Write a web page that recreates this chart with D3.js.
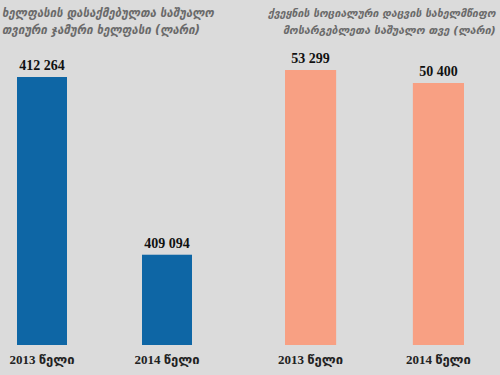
<!DOCTYPE html>
<html>
<head>
<meta charset="utf-8">
<script src="https://cdn.jsdelivr.net/npm/d3@7"></script>
<style>
  html, body { margin: 0; padding: 0; background: #dbdbdb; }
  svg { display: block; }
</style>
</head>
<body>
<svg id="chart" width="500" height="375"></svg>
<script>
"use strict";

// chart data
const years = [ "2013", "2014" ];
const yearSuffix = "წელი";
const salaryValues  = [ 412264, 409094 ];
const benefitValues = [ 53299, 50400 ];
const salaryTitle  = [ "ხელფასის დასაქმებულთა საშუალო", "თვიური ჯამური ხელფასი (ლარი)" ];
const benefitTitle = [ "ქვეყნის სოციალური დაცვის სახელმწიფო", "მოსარგებლეთა საშუალო თვე (ლარი)" ];

const svg = d3.select( "#chart" );
const fmt = (v) => d3.format( "," )( v ).replace( /,/g, " " );

// one panel: truncated axis, like the newspaper graphic
function panel( values, opts ) {

  const x = d3.scaleBand()
              .domain( years )
              .range( opts.xRange )
              .paddingInner( 0.6 );

  const y = d3.scaleLinear()
              .domain( opts.yDomain )
              .range( [ 345, opts.yTop ] );

  const g = svg.append( "g" );

  // title lines, font size fitted to the width they take in the print
  g.selectAll( "text.title" )
     .data( opts.title )
   .enter().append( "text" )
     .attr( "class", "title" )
     .attr( "x", (d, i) => opts.titleX[ i ][0] )
     .attr( "y", (d, i) => 17 + i * 17 )
     .style( "font-family", "DejaVu Sans, sans-serif" )
     .style( "font-size", "11.5px" )
     .style( "font-style", "italic" )
     .style( "font-weight", "bold" )
     .style( "fill", "#6a6a6a" )
     .text( (d) => d )
     .each( function( d, i ) {
       const want = opts.titleX[ i ][1] - opts.titleX[ i ][0];
       const have = this.getComputedTextLength();
       d3.select( this ).style( "font-size", Math.min( 11.5, 11.5 * want / have ) + "px" );
     });

  // bars
  g.selectAll( "rect" )
     .data( values )
   .enter().append( "rect" )
     .attr( "x", (d, i) => x( years[ i ] ) )
     .attr( "y", (d) => y( d ) )
     .attr( "width", x.bandwidth() )
     .attr( "height", (d) => y.range()[0] - y( d ) )
     .style( "fill", opts.color );

  // value labels
  g.selectAll( "text.val" )
     .data( values )
   .enter().append( "text" )
     .attr( "class", "val" )
     .attr( "x", (d, i) => x( years[ i ] ) + x.bandwidth() / 2 )
     .attr( "y", (d) => y( d ) - 7 )
     .attr( "text-anchor", "middle" )
     .style( "font-family", "Liberation Serif, serif" )
     .style( "font-weight", "bold" )
     .style( "font-size", "14px" )
     .style( "fill", "#111" )
     .text( fmt );

  // year labels
  g.selectAll( "text.year" )
     .data( years )
   .enter().append( "text" )
     .attr( "class", "year" )
     .attr( "x", (d) => x( d ) + x.bandwidth() / 2 )
     .attr( "y", 364 )
     .attr( "text-anchor", "middle" )
     .style( "font-family", "Liberation Serif, DejaVu Sans, serif" )
     .style( "font-weight", "bold" )
     .style( "font-size", "13px" )
     .style( "fill", "#222" )
     .text( (d) => d + " " + yearSuffix );
}

panel( salaryValues, {
  xRange: [ 17, 192 ],
  yDomain: [ 407484, 412264 ],
  yTop: 77,
  color: "#0e66a5",
  title: salaryTitle,
  titleX: [ [ 2, 218 ], [ 2, 206 ] ]
});

panel( benefitValues, {
  xRange: [ 285, 464 ],
  yDomain: [ -8044, 53299 ],
  yTop: 70,
  color: "#f8a083",
  title: benefitTitle,
  titleX: [ [ 268, 496 ], [ 283, 496 ] ]
});
</script>
</body>
</html>
